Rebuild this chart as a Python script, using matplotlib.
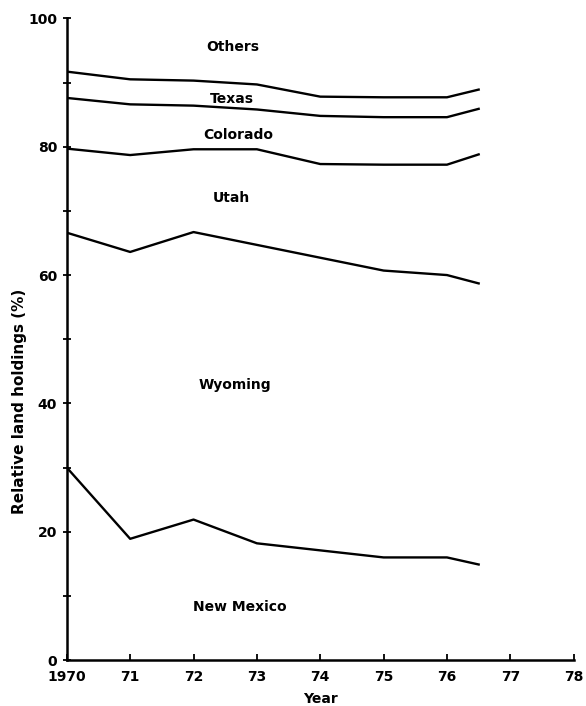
import numpy as np
import matplotlib.pyplot as plt

# cumulative boundaries between states (% of land holdings)
years = [1970, 1971, 1972, 1973, 1974, 1975, 1976, 1976.5]
nm_top = [30, 18.9, 21.9, 18.2, 17.1, 16.0, 16.0, 14.9]   # New Mexico / Wyoming
wy_top = [66.6, 63.6, 66.7, 64.7, 62.7, 60.7, 60.0, 58.7] # Wyoming / Utah
ut_top = [79.7, 78.7, 79.6, 79.6, 77.3, 77.2, 77.2, 78.8] # Utah / Colorado
co_top = [87.6, 86.6, 86.4, 85.8, 84.8, 84.6, 84.6, 85.9] # Colorado / Texas
tx_top = [91.7, 90.5, 90.3, 89.7, 87.8, 87.7, 87.7, 88.9] # Texas / Others

region_names = ["Others", "Texas", "Colorado", "Utah", "Wyoming", "New Mexico"]
label_x = [1972.62, 1972.6, 1972.7, 1972.6, 1972.65, 1972.73]
label_y = [95.6, 87.4, 81.9, 72.0, 42.8, 8.3]

xtick_vals = [1970, 1971, 1972, 1973, 1974, 1975, 1976, 1977, 1978]
xtick_labels = ["1970", "71", "72", "73", "74", "75", "76", "77", "78"]

fig = plt.figure(figsize=(5.86, 7.06), dpi=100)
ax = fig.add_axes([0.114, 0.065, 0.865, 0.909])

for line in [nm_top, wy_top, ut_top, co_top, tx_top]:
    ax.plot(years, line, color='black', lw=1.7)

for name, x, y in zip(region_names, label_x, label_y):
    ax.text(x, y, name, ha='center', va='center', fontsize=10,
            fontweight='bold')

ax.set_xlim(1970, 1978)
ax.set_ylim(0, 100)
ax.spines['top'].set_visible(False)
ax.spines['right'].set_visible(False)
ax.spines['left'].set_linewidth(1.8)
ax.spines['bottom'].set_linewidth(1.8)

ax.set_xticks(xtick_vals)
ax.set_xticklabels(xtick_labels, fontsize=10, fontweight='bold')
ax.set_yticks([0, 20, 40, 60, 80, 100])
ax.set_yticks([10, 30, 50, 70, 90], minor=True)
ax.tick_params(axis='y', which='both', direction='inout', length=6, width=1.3,
               labelsize=10, pad=4)
ax.tick_params(axis='x', direction='in', length=4, width=1.3, pad=7)
for t in ax.get_yticklabels():
    t.set_fontweight('bold')

ax.set_xlabel("Year", fontsize=10, fontweight='bold', labelpad=6)
ax.set_ylabel("Relative land holdings (%)", fontsize=11, fontweight='bold')
ax.yaxis.set_label_coords(-0.078, 0.403)

fig.savefig("out.png", dpi=100)
